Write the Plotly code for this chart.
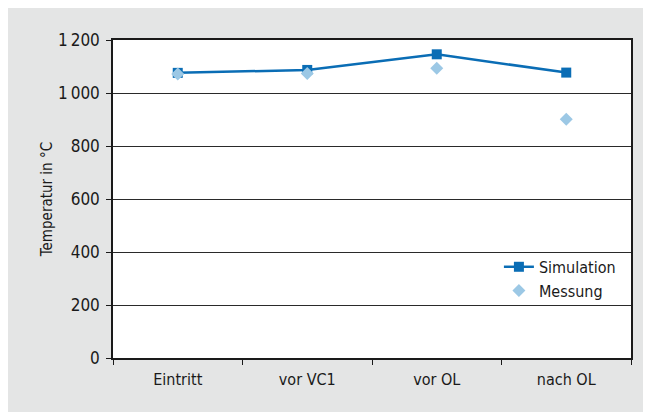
import plotly.graph_objects as go

categories = ["Eintritt", "vor VC1", "vor OL", "nach OL"]
simulation = [1076, 1087, 1146, 1077]
messung = [1072, 1074, 1093, 901]
y_ticks = [0, 200, 400, 600, 800, 1000, 1200]
y_tick_labels = ["0", "200", "400", "600", "800", "1\u2009000", "1\u2009200"]

# page has an 8px body margin; figure sits at (8, 8)
W, H = 643, 404
L, R, T, B = 105, 20, 32, 54

FONT = "Liberation Sans Narrow, DejaVu Sans Condensed, Arial Narrow, sans-serif"
BG = "#e4e5e5"
INK = "#1a1a1a"

fig = go.Figure()
fig.add_trace(go.Scatter(
    x=categories, y=simulation, name="Simulation", mode="lines+markers",
    line=dict(color="#0a6db5", width=2.5),
    marker=dict(symbol="square", size=10, color="#0a6db5"),
))
fig.add_trace(go.Scatter(
    x=categories, y=messung, name="Messung", mode="markers",
    marker=dict(symbol="diamond", size=10, color="#9cc8e5"),
))

fig.update_layout(
    width=W, height=H,
    margin=dict(l=L, r=R, t=T, b=B),
    paper_bgcolor=BG, plot_bgcolor="white",
    font=dict(family=FONT, size=16, color=INK),
    showlegend=True,
    legend=dict(x=0.745, y=0.34, xanchor="left", yanchor="top",
                bgcolor="rgba(0,0,0,0)", font=dict(size=16),
                tracegroupgap=0, itemwidth=30),
    xaxis=dict(type="category", range=[-0.5, 3.5], tickson="boundaries",
               ticks="outside", ticklen=5, tickcolor=INK, tickwidth=1.2,
               showline=True, linecolor=INK, linewidth=1.5, mirror=True,
               showgrid=False, tickfont=dict(size=16), ticklabelstandoff=6),
    yaxis=dict(range=[0, 1200], tickvals=y_ticks, ticktext=y_tick_labels,
               ticks="outside", ticklen=5, tickcolor=INK, tickwidth=1.2,
               showline=True, linecolor=INK, linewidth=1.5, mirror=True,
               showgrid=True, gridcolor="#2a2a2a", gridwidth=1.2,
               zeroline=False, tickfont=dict(size=17), ticklabelstandoff=3,
               title=dict(text="Temperatur in °C", font=dict(size=15), standoff=2)),
)

fig.write_html("out.html")
